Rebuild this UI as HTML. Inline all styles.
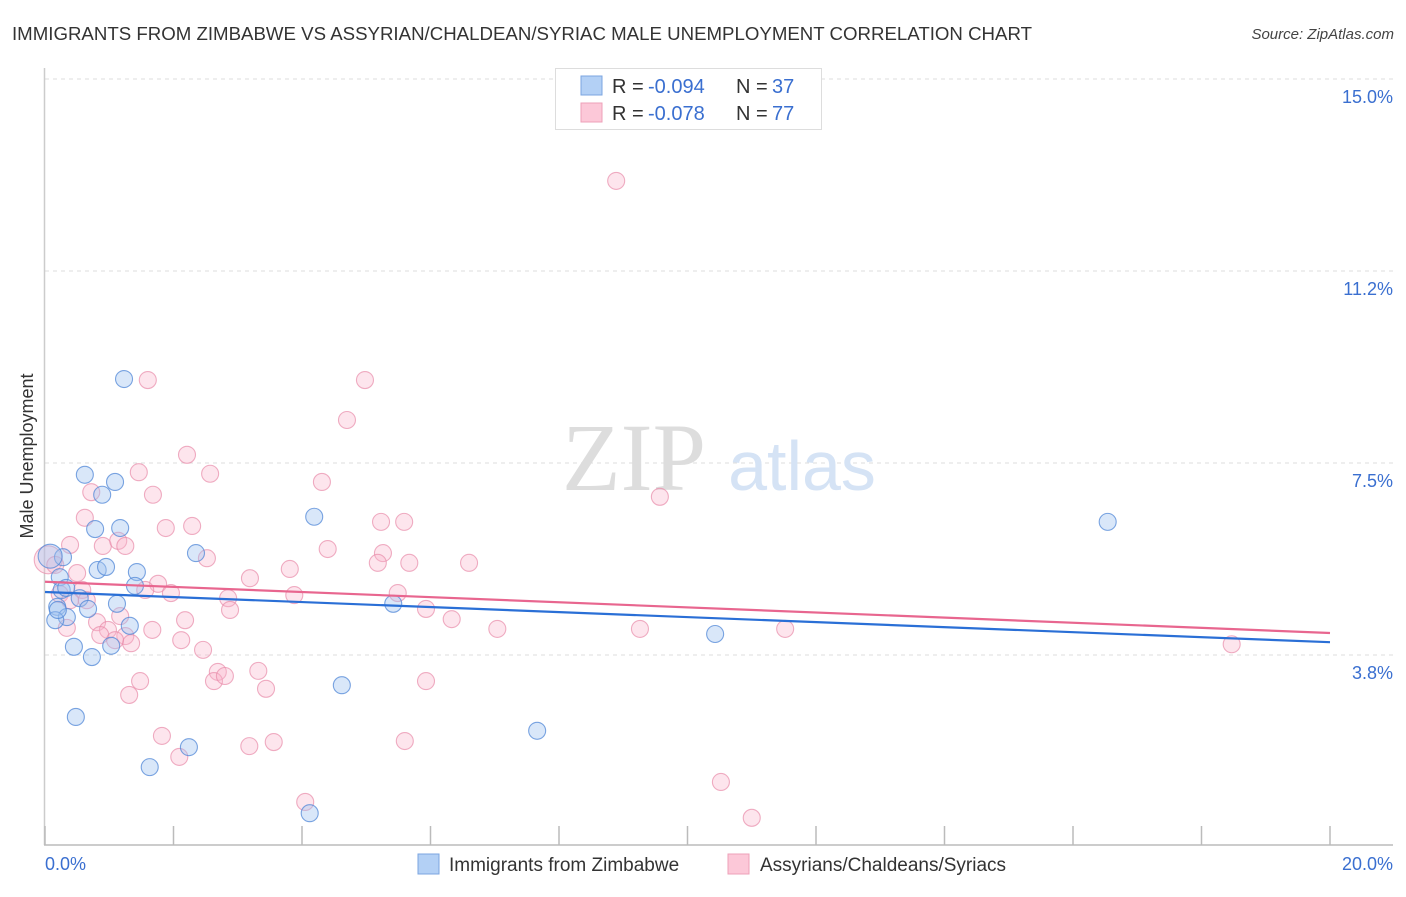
<!DOCTYPE html>
<html><head><meta charset="utf-8"><style>
body{margin:0;background:#fff;width:1406px;height:892px;overflow:hidden;font-family:"Liberation Sans",sans-serif}
</style></head><body>
<svg id="chart" width="1406" height="892" xmlns="http://www.w3.org/2000/svg" font-family="Liberation Sans, sans-serif">
<text x="12" y="40" font-size="18" fill="#333" textLength="1020" lengthAdjust="spacingAndGlyphs">IMMIGRANTS FROM ZIMBABWE VS ASSYRIAN/CHALDEAN/SYRIAC MALE UNEMPLOYMENT CORRELATION CHART</text>
<text x="1394" y="39" font-size="15" fill="#444" font-style="italic" text-anchor="end">Source: ZipAtlas.com</text>
<g id="grid"></g>
<g>
<text x="634" y="490" font-size="96" fill="#ddd" font-family="Liberation Serif, serif" text-anchor="middle">ZIP</text>
<text x="802" y="490" font-size="70" fill="#d5e3f5" text-anchor="middle">atlas</text>
</g>
<line x1="44.5" y1="68" x2="44.5" y2="845" stroke="#ccc" stroke-width="1.5"/>
<line x1="44" y1="845" x2="1393" y2="845" stroke="#bbb" stroke-width="1.5"/>
<g id="ticks"></g>
<text transform="translate(33,456) rotate(-90)" font-size="18" fill="#333" text-anchor="middle">Male Unemployment</text>
<text x="45" y="870" font-size="18" fill="#3a6fd0">0.0%</text>
<text x="1393" y="870" font-size="18" fill="#3a6fd0" text-anchor="end">20.0%</text>
<g id="points"></g>
<g id="lines"></g>
<g font-size="20">
<rect x="555.5" y="68.5" width="266" height="61" fill="#fff" stroke="#ddd"/>
<rect x="581" y="76" width="21" height="19" fill="#b3d0f5" stroke="#7ba5e0"/>
<rect x="581" y="103" width="21" height="19" fill="#fcc8d8" stroke="#eea0b8"/>
<text x="612" y="93" fill="#333">R =</text><text x="648" y="93" fill="#3a6fd0">-0.094</text>
<text x="736" y="93" fill="#333">N =</text><text x="772" y="93" fill="#3a6fd0">37</text>
<text x="612" y="120" fill="#333">R =</text><text x="648" y="120" fill="#3a6fd0">-0.078</text>
<text x="736" y="120" fill="#333">N =</text><text x="772" y="120" fill="#3a6fd0">77</text>
</g>
<g>
<rect x="418" y="854" width="21" height="20" fill="#b3d0f5" stroke="#7ba5e0"/>
<text x="449" y="871" font-size="19" fill="#333">Immigrants from Zimbabwe</text>
<rect x="728" y="854" width="21" height="20" fill="#fcc8d8" stroke="#eea0b8"/>
<text x="760" y="871" font-size="19" fill="#333">Assyrians/Chaldeans/Syriacs</text>
</g>
</svg>
<script>
const yTicks=[3.75,7.5,11.25,15];
const yTickLabels=["3.8%","7.5%","11.2%","15.0%"];
const xTicks=[0,2,4,6,8,10,12,14,16,18,20];
const blueX=[1.23,0.62,1.09,0.89,0.78,1.17,0.28,0.82,0.95,1.43,0.23,1.40,0.54,0.19,0.67,1.12,0.34,0.16,2.35,4.19,5.42,0.45,1.03,0.73,1.32,4.62,0.48,2.24,1.63,4.12,7.66,10.43,16.54,0.26,0.08,0.20,0.33];
const blueY=[9.14,7.27,7.13,6.88,6.21,6.23,5.66,5.41,5.47,5.37,5.27,5.10,4.86,4.69,4.65,4.75,4.49,4.43,5.74,6.45,4.75,3.91,3.93,3.71,4.32,3.16,2.54,1.95,1.56,0.66,2.27,4.16,6.35,5.02,5.68,4.63,5.06];
const pinkX=[8.89,1.60,4.98,4.70,2.21,1.46,2.57,4.31,0.72,1.68,9.57,0.62,1.88,2.29,5.23,5.59,0.39,0.90,1.14,1.25,4.40,5.26,2.52,5.18,5.67,6.60,3.19,3.81,0.50,1.76,1.56,1.96,2.85,3.88,5.49,0.58,0.23,5.93,6.33,2.18,7.04,9.26,11.52,1.17,0.81,0.98,0.34,1.25,1.67,1.34,2.12,2.46,18.47,2.69,3.32,1.48,2.63,2.80,3.44,1.31,5.93,1.82,2.09,3.18,3.56,5.60,10.52,4.05,11.00,0.05,0.16,0.39,0.86,0.65,2.88,1.09];
const pinkY=[13.01,9.12,9.12,8.34,7.66,7.32,7.29,7.13,6.93,6.88,6.84,6.43,6.23,6.27,6.35,6.35,5.90,5.88,5.98,5.88,5.82,5.74,5.64,5.55,5.55,5.55,5.25,5.43,5.35,5.14,5.02,4.96,4.86,4.92,4.96,5.02,4.94,4.65,4.45,4.43,4.26,4.26,4.26,4.51,4.39,4.24,4.28,4.12,4.24,3.98,4.04,3.85,3.96,3.42,3.44,3.24,3.24,3.34,3.09,2.97,3.24,2.17,1.76,1.97,2.05,2.07,1.27,0.88,0.57,5.61,5.51,4.82,4.14,4.82,4.63,4.04];
const blueTrend=[4.98,4.00];
const pinkTrend=[5.18,4.18];
const NS="http://www.w3.org/2000/svg";
const xs=v=>45+v*64.25;
const ys=v=>655+(3.75-v)*51.2;
function mk(tag,attrs,parent){const e=document.createElementNS(NS,tag);for(const k in attrs)e.setAttribute(k,attrs[k]);document.getElementById(parent).appendChild(e);return e;}
yTicks.forEach((t,i)=>{
  const l=mk('line',{x1:45,x2:1393,y1:ys(t),y2:ys(t),stroke:'#ddd','stroke-dasharray':'4,4'},'grid');
  
  
  const tx=mk('text',{x:1393,y:ys(t)+24,'font-size':18,fill:'#3a6fd0','text-anchor':'end'},'grid');
  tx.textContent=yTickLabels[i];
  
  
});
xTicks.forEach(t=>{
  const l=mk('line',{x1:xs(t/1),x2:xs(t/1),y1:826,y2:845,stroke:'#bbb','stroke-width':1.5},'ticks');
  
  
});
pinkX.forEach((x,i)=>{
  const c=mk('circle',{cx:xs(x),cy:ys(pinkY[i]),r:i==69?14:8.5,fill:'rgba(248,180,202,0.35)',stroke:'rgba(232,140,170,0.7)','stroke-width':1.1},'points');
  
  
});
blueX.forEach((x,i)=>{
  const c=mk('circle',{cx:xs(x),cy:ys(blueY[i]),r:i==34?12:8.5,fill:'rgba(160,196,240,0.4)',stroke:'rgba(80,135,215,0.75)','stroke-width':1.1},'points');
  
  
});
const bl=mk('line',{x1:xs(0),y1:ys(blueTrend[0]),x2:xs(20),y2:ys(blueTrend[1]),stroke:'#2a6fd6','stroke-width':2.2},'lines');


const pl=mk('line',{x1:xs(0),y1:ys(pinkTrend[0]),x2:xs(20),y2:ys(pinkTrend[1]),stroke:'#e8668f','stroke-width':2.2},'lines');


</script>
</body></html>
